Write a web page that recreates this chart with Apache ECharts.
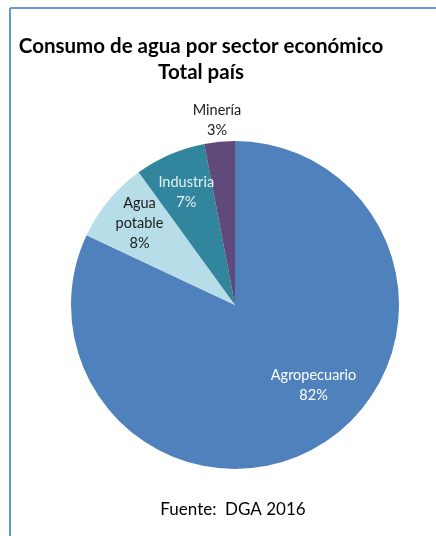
<!DOCTYPE html>
<html><head><meta charset="utf-8">
<script src="https://cdn.jsdelivr.net/npm/echarts@6/dist/echarts.min.js"></script>
<style>html,body{margin:0;padding:0;background:#fff}#c{width:436px;height:536px}</style>
</head><body><div id="c"></div>
<script>
const categories = ['Agropecuario', 'Agua potable', 'Industria', 'Minería'];
const values = [82, 8, 7, 3];
const titleLines = ['Consumo de agua por sector económico', 'Total país'];
const sourceText = 'Fuente:  DGA 2016';

const colors = ['#4F81BD', '#B7DEE8', '#31859C', '#604A7B'];
const labelColors = ['#ffffff', '#1a1a1a', '#e8f2f4', '#1a1a1a'];
const labelShift = [[33, 9], [-30, -27], [-15, -35], [-10, -100]];
const labelText = ['Agropecuario\n82%', 'Agua\npotable\n8%', 'Industria\n7%', 'Minería\n3%'];

const chart = echarts.init(document.getElementById('c'));
chart.setOption({
  animation: false,
  graphic: [
    { type: 'line', shape: { x1: 10, y1: 8, x2: 436, y2: 8 }, style: { stroke: '#6A96D6', lineWidth: 2 } },
    { type: 'line', shape: { x1: 10, y1: 8, x2: 10, y2: 536 }, style: { stroke: '#6A96D6', lineWidth: 2 } },
    { type: 'text', x: 201, y: 46, style: { text: titleLines[0], fontFamily: 'Lato', fontWeight: 'bold', fontSize: 20.5, fill: '#000', textAlign: 'center', textVerticalAlign: 'middle' } },
    { type: 'text', x: 201, y: 72, style: { text: titleLines[1], fontFamily: 'Lato', fontWeight: 'bold', fontSize: 20.5, fill: '#000', textAlign: 'center', textVerticalAlign: 'middle' } },
    { type: 'text', x: 233, y: 510, style: { text: sourceText, fontFamily: 'Lato', fontSize: 17, fill: '#000', textAlign: 'center', textVerticalAlign: 'middle' } }
  ],
  series: [{
    type: 'pie',
    center: [235, 305],
    radius: [0, 164],
    startAngle: 90,
    clockwise: true,
    avoidLabelOverlap: false,
    labelLine: { show: false },
    itemStyle: { borderColor: '#ffffff', borderWidth: 0 },
    label: {
      show: true,
      position: 'inside',
      fontFamily: 'Lato',
      fontSize: 14.5,
      lineHeight: 20,
      align: 'center'
    },
    labelLayout: function (p) {
      const s = labelShift[p.dataIndex];
      return { dx: s[0], dy: s[1] };
    },
    data: categories.map((c, i) => ({
      name: c,
      value: values[i],
      itemStyle: { color: colors[i] },
      label: { color: labelColors[i], formatter: labelText[i] }
    }))
  }]
});
</script></body></html>
